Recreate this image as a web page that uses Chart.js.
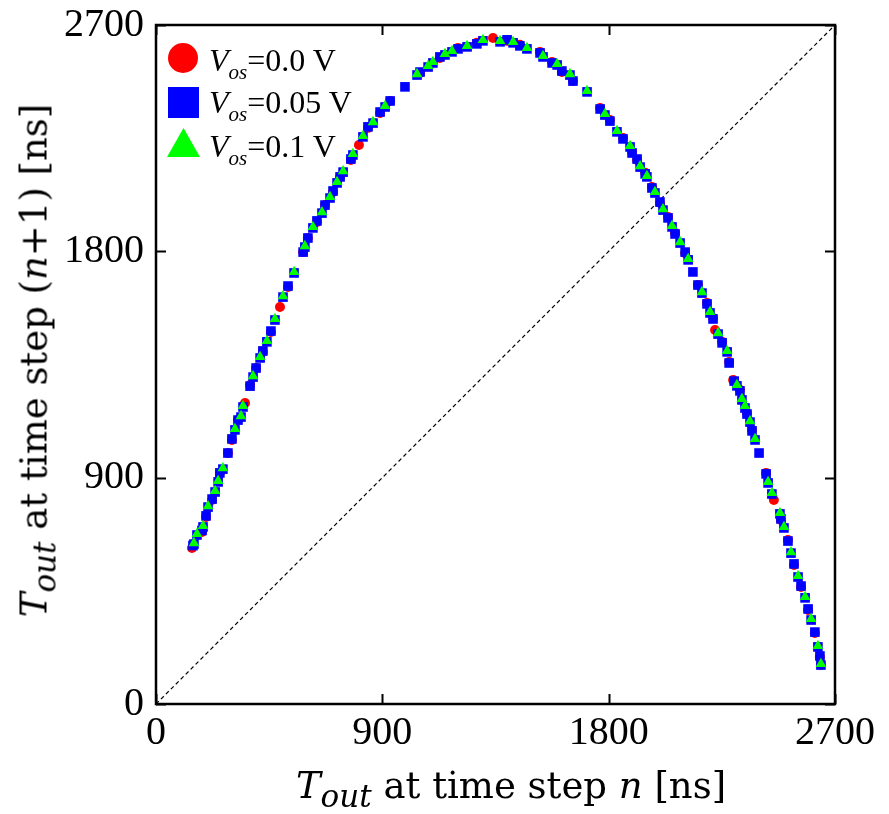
<!DOCTYPE html>
<html>
<head>
<meta charset="utf-8">
<script src="https://cdn.jsdelivr.net/npm/chart.js@4.4.0/dist/chart.umd.min.js"></script>
<style>
  body { margin: 0; background: #fff; }
  #wrap { position: relative; width: 889px; height: 814px; }
  canvas { position: absolute; left: 0; top: 0; }
  .t { position: absolute; color: #000; white-space: nowrap; }
  .ttl { font-family: "DejaVu Serif", serif; }
  .lg { font-family: "Liberation Serif", serif; }
  .sub { font-style: italic; position: relative; }
  #xt { left: 211px; width: 600px; top: 767px; height: 37px; font-size: 37px; line-height: 37px; text-align: center; }
  #yt { left: -266px; width: 600px; top: 342px; height: 37px; font-size: 37px; line-height: 37px; text-align: center; transform: rotate(-90deg); }
  #xt .sub, #yt .sub { font-size: 31px; top: 9px; }
  .lg { position: absolute; left: 209px; font-size: 32px; line-height: 32px; }
  .lg .sub { font-size: 21px; top: 8px; }
  .mk { position: absolute; }
</style>
</head>
<body>
<div id="wrap">
  <canvas id="c" width="889" height="814"></canvas>
  <div class="t ttl" id="xt"><i>T</i><span class="sub">out</span> at time step <i>n</i> [ns]</div>
  <div class="t ttl" id="yt"><i>T</i><span class="sub">out</span> at time step (<i>n</i>+1) [ns]</div>

  <div class="mk" style="left:168px;top:43px;width:30px;height:30px;border-radius:50%;background:#ff0000;"></div>
  <div class="mk" style="left:168px;top:87px;width:31px;height:31px;background:#0000ff;"></div>
  <svg class="mk" style="left:167px;top:128px;" width="33" height="30"><polygon points="16.5,0 33,29 0,29" fill="#00ff00"/></svg>

  <div class="t lg" style="top:44px;"><i>V</i><span class="sub">os</span>=0.0 V</div>
  <div class="t lg" style="top:86px;"><i>V</i><span class="sub">os</span>=0.05 V</div>
  <div class="t lg" style="top:130px;"><i>V</i><span class="sub">os</span>=0.1 V</div>
</div>
<script>
// ---- data ----
const tickValues = [0, 900, 1800, 2700];
const tickLabels = ['0', '900', '1800', '2700'];

const red_x = [143,183,199,223,254,286,302,326,354,374,398,425,457,493,525,585,604,640,672,704,732,775,807,843,891,931,1050,1129,1201,1276,1340,1396,1447,1527,1575,1614,1658,1766,1805,1857,1893,1913,1945,1972,2004,2036,2064,2104,2155,2191,2215,2223,2251,2279,2295,2322,2350,2370,2426,2457,2485,2513,2537,2565,2593,2620,2640,2644];
const red_y = [620,684,744,811,919,998,1050,1129,1197,1268,1336,1400,1479,1579,1658,1797,1853,1917,1984,2036,2096,2163,2223,2291,2350,2398,2509,2569,2609,2629,2648,2637,2621,2593,2553,2513,2477,2370,2322,2251,2195,2163,2112,2056,1992,1937,1873,1793,1666,1595,1535,1487,1440,1360,1288,1249,1157,1090,919,811,732,652,553,465,374,282,187,155];

const blue_x = [147,151,163,183,187,199,207,223,235,247,254,266,286,302,314,326,338,346,374,386,398,414,425,441,457,473,505,525,549,585,592,604,624,640,660,672,692,704,720,732,744,775,783,823,843,863,891,911,931,990,1038,1050,1082,1101,1129,1149,1177,1201,1237,1276,1300,1368,1396,1420,1447,1475,1527,1539,1575,1595,1614,1646,1658,1714,1766,1785,1805,1833,1857,1885,1893,1913,1925,1945,1952,1972,1984,2004,2016,2036,2052,2064,2084,2104,2116,2135,2155,2171,2191,2203,2215,2235,2251,2271,2279,2299,2310,2322,2330,2342,2350,2362,2370,2382,2398,2426,2434,2449,2481,2485,2497,2513,2525,2537,2553,2565,2581,2593,2605,2620,2632,2640,2644];
const blue_y = [630,636,672,690,704,748,783,815,843,883,919,934,998,1054,1090,1129,1141,1181,1264,1300,1336,1376,1404,1440,1483,1527,1618,1662,1714,1797,1817,1853,1893,1921,1952,1984,2012,2040,2072,2096,2115,2167,2183,2255,2295,2310,2354,2374,2398,2454,2501,2513,2533,2549,2573,2581,2593,2605,2613,2625,2637,2633,2641,2629,2617,2605,2589,2573,2549,2541,2517,2501,2477,2434,2366,2342,2318,2275,2247,2215,2191,2167,2135,2108,2096,2052,2032,1996,1964,1933,1897,1869,1833,1797,1766,1718,1666,1634,1591,1555,1531,1471,1436,1400,1356,1284,1265,1245,1209,1177,1153,1121,1086,1050,998,915,879,835,756,736,700,648,600,557,505,469,422,378,334,286,227,191,155];

const green_x = [151,163,187,207,235,247,266,314,338,346,386,414,441,473,505,549,592,624,660,692,720,744,783,823,863,911,1038,1082,1101,1149,1177,1237,1300,1368,1420,1475,1539,1595,1646,1714,1785,1833,1885,1925,1952,1984,2016,2052,2084,2116,2171,2203,2235,2271,2310,2330,2342,2362,2382,2434,2449,2481,2497,2525,2553,2581,2605,2632,2644];
const green_y = [640,676,708,787,847,887,938,1094,1145,1185,1304,1380,1444,1531,1622,1718,1821,1897,1956,2016,2076,2119,2187,2259,2314,2378,2505,2537,2553,2585,2597,2617,2641,2637,2633,2609,2577,2545,2505,2438,2346,2279,2219,2139,2100,2036,1968,1901,1837,1770,1638,1559,1475,1404,1269,1213,1185,1125,1054,883,839,760,704,604,509,426,338,231,159];

const diag_x = [0, 2700];
const diag_y = [0, 2700];

const toPts = (xs, ys) => xs.map((x, i) => ({ x: x, y: ys[i] }));
const labelFor = v => tickLabels[tickValues.indexOf(v)];

const framePlugin = {
  id: 'frame',
  afterDatasetsDraw(chart) {
    const ctx = chart.ctx, a = chart.chartArea;
    const xs = chart.scales.x, ys = chart.scales.y;
    ctx.save();
    ctx.strokeStyle = '#000';
    ctx.lineWidth = 2.5;
    ctx.strokeRect(a.left, a.top, a.right - a.left, a.bottom - a.top);
    ctx.lineWidth = 2;
    const L = 10;
    ctx.beginPath();
    xs.ticks.forEach(t => {
      const p = Math.round(xs.getPixelForValue(t.value)) + 0.5;
      ctx.moveTo(p, a.bottom); ctx.lineTo(p, a.bottom - L);
      ctx.moveTo(p, a.top); ctx.lineTo(p, a.top + L);
    });
    ys.ticks.forEach(t => {
      const p = Math.round(ys.getPixelForValue(t.value)) + 0.5;
      ctx.moveTo(a.left, p); ctx.lineTo(a.left + L, p);
      ctx.moveTo(a.right, p); ctx.lineTo(a.right - L, p);
    });
    ctx.stroke();
    ctx.restore();
  }
};

new Chart(document.getElementById('c'), {
  type: 'scatter',
  data: {
    datasets: [
      { label: 'diag', data: toPts(diag_x, diag_y), showLine: true, borderColor: '#000', borderWidth: 1.2, borderDash: [4, 3], pointRadius: 0, order: 4 },
      { label: 'Vos=0.0 V', data: toPts(red_x, red_y), pointStyle: 'circle', pointRadius: 5, backgroundColor: '#ff0000', borderColor: '#ff0000', borderWidth: 0, order: 3 },
      { label: 'Vos=0.05 V', data: toPts(blue_x, blue_y), pointStyle: 'rect', pointRadius: 6.8, backgroundColor: '#0000ff', borderColor: '#0000ff', borderWidth: 0, order: 2 },
      { label: 'Vos=0.1 V', data: toPts(green_x, green_y), pointStyle: 'triangle', pointRadius: 6.2, backgroundColor: '#00ff00', borderColor: '#00ff00', borderWidth: 0, order: 1 }
    ]
  },
  options: {
    responsive: false,
    animation: false,
    devicePixelRatio: 1,
    layout: { padding: { top: 25, right: 54, left: 0, bottom: 0 } },
    plugins: { legend: { display: false }, tooltip: { enabled: false } },
    scales: {
      x: {
        type: 'linear', min: 0, max: 2700,
        afterBuildTicks: s => { s.ticks = tickValues.map(v => ({ value: v })); },
        afterFit: s => { s.height = 110; s.paddingLeft = 0; s.paddingRight = 0; },
        grid: { display: false, drawTicks: false },
        border: { display: false },
        ticks: { color: '#000', padding: 5, maxRotation: 0, callback: v => labelFor(v), font: { family: 'Liberation Serif', size: 40 } }
      },
      y: {
        type: 'linear', min: 0, max: 2700,
        afterBuildTicks: s => { s.ticks = tickValues.map(v => ({ value: v })); },
        afterFit: s => { s.width = 156; s.paddingTop = 0; s.paddingBottom = 0; },
        grid: { display: false, drawTicks: false },
        border: { display: false },
        ticks: { color: '#000', padding: 12, callback: v => labelFor(v), font: { family: 'Liberation Serif', size: 40 } }
      }
    }
  },
  plugins: [framePlugin]
});
</script>
</body>
</html>
